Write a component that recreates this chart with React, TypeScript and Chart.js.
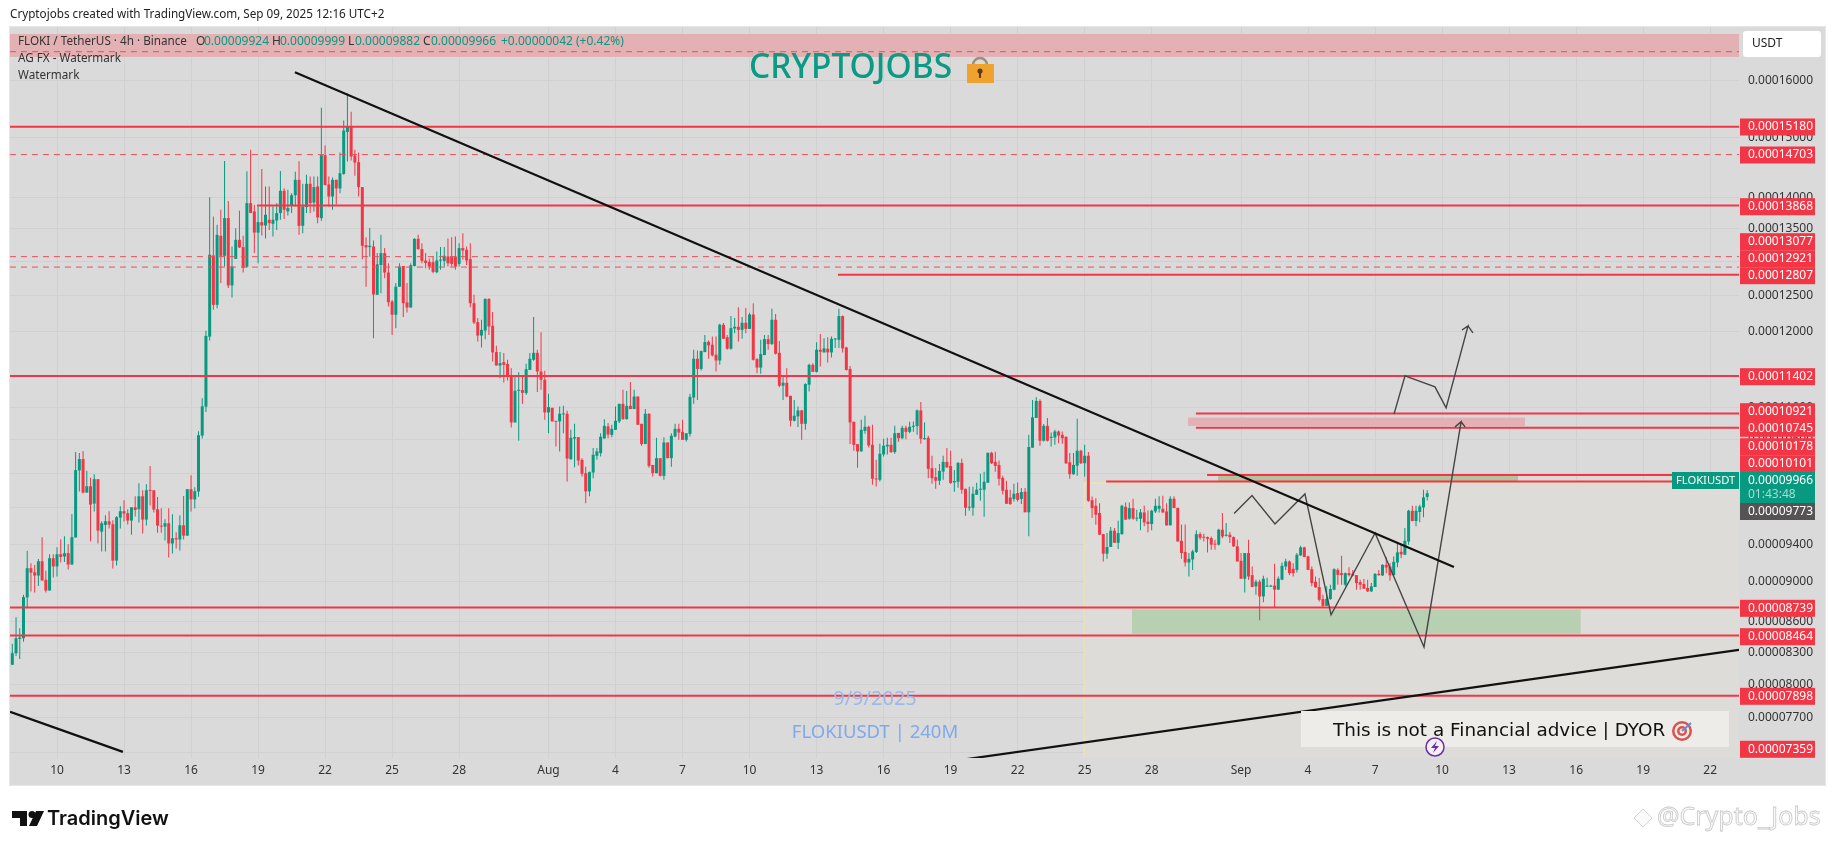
import React, { useEffect, useRef } from "react";
import { Chart, registerables } from "chart.js";

Chart.register(...registerables);

// Prices are kept in units of 0.00000001 USDT.
const PRICE_UNIT = 1e-8;
const price = (v: number) => v * PRICE_UNIT;

// 4h candles [open, high, low, close]. x is "days since 1 July" (Jul 10 = 9).
const firstCandleDay = 9 - 13 / 6;

const julyCandles = [
[8165,8193,8118,8180],[8184,8383,8184,8293],[8293,8643,8267,8437],[8431,8535,8239,8444],[8437,8868,8402,8845],[8842,9328,8742,9144],[9144,9196,8902,9098],[9101,9178,8892,9067],[9067,9242,8960,9217],[9217,9475,9016,9016],
[9023,9116,8892,8912],[8912,9292,8912,9249],[9249,9292,9046,9162],[9162,9367,9056,9292],[9292,9453,9203,9263],[9267,9486,9210,9303],[9303,9400,9130,9182],[9182,9732,9182,9475],[9472,10448,9472,10234],[10230,10436,9985,10365],
[10365,10460,9962,9973],[9973,10226,9973,10046],[10046,10144,9428,9837],[9848,10186,9758,10128],[10128,10128,9407,9547],[9536,9650,9320,9628],[9610,9717,9320,9650],[9650,9762,9569,9613],[9617,9661,9140,9224],[9224,9706,9172,9695],
[9691,9818,9569,9762],[9762,9887,9647,9736],[9740,9784,9613,9658],[9658,9806,9503,9806],[9806,9931,9703,9777],[9784,10081,9636,9931],[9931,10000,9516,9669],[9669,10070,9602,10000],[10000,10281,9825,9993],[10000,10000,9747,9780],
[9784,9922,9525,9602],[9602,9796,9525,9591],[9591,9673,9439,9628],[9628,9796,9256,9407],[9407,9729,9299,9464],[9464,9530,9353,9450],[9450,9717,9331,9606],[9606,9935,9450,9492],[9492,10012,9492,10012],[10012,10174,9758,9895],
[9895,10035,9792,9989],[9985,10701,9927,10652],[10648,11113,10611,11012],[11008,12009,10941,11939],[11929,14000,11875,13105],[13095,13695,12303,12373],[12373,13564,12326,13408],[13393,13800,12686,13090],[13090,14597,12928,13669],[13669,13941,12613,12652],
[12652,13231,12477,12928],[13044,13512,13044,13332],[13332,13784,13206,13216],[13221,13393,12840,12913],[12928,14425,12913,13905],[13905,14785,13748,13748],[13774,13878,13130,13443],[13443,13852,12978,13606],[13606,14463,13398,13553],[13553,14175,13352,13722],
[13643,14175,13485,13590],[13580,13852,13383,13643],[13632,13905,13485,13748],[13748,14430,13643,14104],[14104,14147,13653,13800],[13774,14120,13711,13826],[13868,14066,13748,14033],[14033,14414,13852,14283],[14283,14590,13408,13548],[13548,14218,13433,13852],
[13842,14365,13748,14218],[14218,14337,13748,13905],[13915,14337,13774,14164],[14175,14337,13590,13679],[13669,15514,13627,14693],[14693,14858,14196,14196],[14207,14337,13852,14012],[14012,14321,13800,14283],[14283,14283,13878,14142],[14142,14739,14066,14392],
[14381,15290,14365,15114],[15090,15773,14586,15185],[15185,15443,14603,14671],[14688,14784,14348,14569],[14575,14739,14012,14164],[14164,14164,13039,13241],[13251,13372,12633,13216],[13221,13514,13075,13241],[13231,13322,11906,12521],[12516,13130,12516,12963],
[12953,13408,12540,13130],[13130,13206,12758,12841],[12841,12978,12349,12410],[12420,12443,11953,12233],[12233,12686,12046,12633],[12633,12978,12633,12928],[12938,12938,12200,12396],[12406,12686,12265,12335],[12335,12978,12335,12948],[12938,13357,12928,13347],
[13347,13408,13181,13191],[13191,13281,12978,13014],[13019,13130,12904,12983],[12998,13050,12880,12928],[12993,13075,12830,12850],[12845,13155,12830,13019],[13019,13221,12880,13029],[13014,13221,12928,13090],[13080,13352,12928,12978],[13070,13372,12928,12968],
[13080,13383,12880,12928],[12968,13281,12928,13206],[13206,13433,13029,13170],[13181,13231,12953,13019],[13039,13281,12340,12396],[12396,12516,12102,12125],[12130,12186,11864,11944],[11944,12163,11782,12022],[12013,12467,11895,12457],[12457,12467,11953,12069],
[12079,12270,11593,11715],[11719,11805,11540,11540],[11540,11719,11374,11571],[11585,11706,11318,11549],[11562,11616,11344,11409],[11409,11504,10748,10810],[10810,11396,10810,11210],[11210,11452,10585,11223],[11219,11396,11043,11184],[11180,11562,11158,11491],
[11482,11706,11482,11630],[11616,12200,11603,11710],[11710,11751,11193,11461],[11461,11990,11223,11353],[11353,11470,10843,10935],
];

const augustCandles = [
[10935,11171,10677,11002],[10993,10993,10823,10823],[10827,10827,10516,10818],[10823,11010,10456,10918],[10910,11018,10677,10918],[10918,10956,10102,10371],[10363,10719,10355,10621],[10612,10793,10267,10629],[10629,10629,10287,10347],[10355,10375,10160,10190],
[10198,10275,9853,9987],[9987,10217,9930,10210],[10206,10497,10140,10416],[10404,10497,10355,10456],[10436,10677,10396,10633],[10612,10851,10612,10768],[10760,10802,10616,10661],[10657,10781,10629,10731],[10719,11010,10719,10831],[10823,11043,10802,11043],
[11043,11223,10843,10851],[10851,11206,10843,11018],[11018,11323,10977,10977],[10977,11223,10977,11136],[11136,11136,10781,10781],[10793,10793,10524,10544],[10544,10977,10544,10918],[10918,10926,10263,10283],[10295,10295,10160,10198],[10198,10621,10198,10375],
[10375,10375,10160,10167],[10167,10629,10121,10564],[10564,10564,10375,10375],[10375,10677,10275,10645],[10637,10793,10629,10731],[10731,10793,10596,10685],[10694,10843,10596,10596],[10596,10677,10576,10677],[10669,11171,10637,11132],[11124,11751,11043,11630],
[11630,11742,11093,11495],[11495,11742,11474,11733],[11719,11953,11719,11855],[11859,11878,11630,11810],[11819,11930,11661,11675],[11684,11930,11461,11607],[11607,12107,11549,12093],[12093,12116,11900,11900],[11922,11953,11751,11765],[11765,12214,11751,12046],
[12041,12186,11976,12065],[12065,12340,11864,12022],[12022,12200,11900,12121],[12121,12328,11976,12036],[12036,12261,12036,12237],[12237,12396,11607,11616],[11625,11639,11439,11513],[11513,11886,11431,11693],[11679,11953,11679,11895],[11895,11953,11751,11828],
[11828,12319,11814,12163],[12163,12242,11688,11697],[11710,11868,11254,11275],[11275,11396,11093,11314],[11314,11504,11128,11136],[11145,11145,10760,10831],[10831,11093,10823,10893],[10885,11010,10752,10960],[10960,10968,10596,10793],[10793,11306,10719,11297],
[11288,11562,11201,11549],[11549,11571,11456,11456],[11456,11851,11448,11751],[11751,11967,11526,11724],[11715,11908,11715,11769],[11765,11922,11580,11715],[11715,11930,11648,11900],[11891,11908,11774,11900],[11886,12319,11774,12214],[12214,12224,11715,11769],
[11782,11791,11474,11482],[11495,11535,10544,10810],[10818,10818,10465,10535],[10544,10544,10263,10456],[10456,10843,10456,10719],[10706,10893,10669,10756],[10756,10769,10504,10528],[10536,10781,10064,10133],[10133,10355,10044,10125],[10121,10548,10102,10428],
[10420,10609,10396,10524],[10516,10621,10420,10536],[10536,10621,10436,10448],[10448,10769,10428,10677],[10681,10681,10572,10616],[10616,10769,10604,10743],[10743,10769,10604,10694],[10694,10818,10677,10756],[10756,10823,10694,10769],[10764,10972,10657,10960],
[10960,11068,10548,10609],[10604,10810,10596,10616],[10621,10645,10140,10248],[10256,10403,10075,10140],[10152,10259,10017,10110],[10110,10307,10060,10225],[10217,10403,10121,10331],[10331,10497,10259,10267],[10283,10464,10075,10083],[10091,10235,9983,10106],
[10098,10331,10029,10319],[10319,10367,9960,10006],[10017,10017,9712,9801],[9801,10040,9768,9812],[9801,10040,9712,9960],[9948,10087,9948,10006],[10006,10190,9879,10017],[10006,10214,9701,10098],[10087,10440,10087,10440],[10440,10452,10307,10315],
[10331,10452,10214,10283],[10295,10347,10056,10133],[10143,10167,9950,9994],[10006,10110,9842,9846],[9917,10006,9835,9842],[9901,10075,9872,9960],[9967,10090,9872,9890],[9901,10025,9842,9979],[9983,10025,9750,9750],[9750,10657,9485,10509],
[10501,11093,10501,10873],[10865,11128,10865,11080],[11080,11102,10524,10585],[10585,10790,10576,10768],[10768,10864,10576,10585],[10621,10685,10516,10633],[10625,10719,10536,10698],[10698,10710,10556,10649],[10657,10698,10548,10616],[10633,10637,10307,10315],
[10327,10436,10133,10186],[10186,10436,10179,10295],[10287,10856,10167,10464],[10464,10476,10307,10315],[10315,10536,10160,10404],[10404,10448,9868,9879],[9886,9929,9685,9797],[9823,9908,9612,9723],[9742,9853,9502,9502],[9509,9509,9215,9297],
[9297,9520,9243,9369],[9369,9587,9369,9546],[9546,9576,9415,9415],[9415,9657,9347,9520],[9509,9835,9502,9823],[9812,9861,9668,9668],[9679,9861,9668,9797],[9797,9903,9668,9679],[9679,9779,9650,9690],[9679,9786,9550,9749],
[9749,9823,9594,9638],[9646,9771,9528,9620],[9620,9779,9550,9767],[9760,9903,9742,9823],[9789,9930,9749,9823],[9789,9938,9742,9749],[9760,9853,9601,9605],[9605,9930,9605,9903],[9903,9930,9797,9797],[9800,9800,9429,9429],
[9436,9613,9243,9304],[9315,9613,9161,9204],[9204,9304,9058,9243],[9236,9340,9126,9322],[9315,9550,9304,9509],[9509,9528,9447,9469],[9476,9513,9429,9469],[9476,9483,9311,9458],[9465,9483,9340,9394],[9404,9447,9340,9394],
[9394,9568,9386,9557],[9557,9742,9465,9483],[9490,9631,9483,9502],[9502,9531,9411,9476],[9476,9483,9369,9376],[9376,9447,9215,9215],
];

const septemberCandles = [
[9222,9304,9034,9034],[9034,9304,8893,9304],[9304,9447,9024,9058],[9071,9161,8948,8948],[8955,9024,8870,9003],[9003,9024,8612,8852],[8852,9065,8794,9034],[8952,9044,8948,8958],[8952,8972,8948,8962],[8962,9190,8743,8921],
[8921,9058,8921,9034],[9024,9204,9017,9169],[9161,9243,9126,9215],[9215,9226,9071,9092],[9137,9197,9058,9092],[9126,9304,9099,9286],[9279,9383,9276,9365],[9365,9372,9261,9261],[9268,9276,9126,9126],[9133,9161,8955,8989],
[9003,9058,8941,8945],[8948,9041,8801,8818],[8825,8870,8744,8757],[8757,8955,8757,8828],[8825,8972,8818,8928],[8921,9144,8914,9133],[9126,9144,8972,9074],[9092,9276,8972,9074],[8972,9099,8955,9092],[9092,9154,9058,9071],
[9085,9126,9058,9065],[9071,9071,8921,8989],[8999,9024,8921,8972],[8979,9031,8928,8931],[8938,9024,8897,8904],[8904,8989,8897,8955],[8948,9092,8948,9085],[9085,9126,9065,9071],[9068,9184,9065,9179],[9179,9261,9092,9151],
[9161,9197,9014,9068],[9071,9268,9065,9211],[9204,9404,9154,9311],[9318,9394,9250,9290],[9286,9576,9286,9436],[9429,9779,9394,9767],[9767,9823,9650,9653],[9653,9823,9594,9767],[9753,9835,9638,9815],[9804,10007,9694,9919],
[9924,9999,9882,9966],
];

// Axis
const xTickDays = [9,12,15,18,21,24,27,31,34,37,40,43,46,49,52,55,58,62,65,68,71,74,77,80,83];
const xTickLabels = ["10","13","16","19","22","25","28","Aug","4","7","10","13","16","19","22","25","28","Sep","4","7","10","13","16","19","22"];
const yTicks = [16000,15000,14000,13500,13000,12500,12000,11000,10600,10200,9800,9400,9000,8600,8300,8000,7700,7400];
const xMin = 6.896, xMax = 84.29, yMin = 7353, yMax = 17023;

// Horizontal levels
const solidLevels = [15180, 11402, 8739, 8464, 7898];
const dashedLevels = [16547, 14703, 13077, 12921];
const partialLevels = [13868, 12807, 10921, 10745, 10178, 10101];
const partialStarts = [17.95, 43.96, 59.98, 59.98, 60.48, 55.96];

// Trend lines: [day, price]
const mainTrend = [[19.65,16161],[71.53,9157]];
const lowerLeftTrend = [[6.9,7754],[11.95,7405]];
const risingTrend = [[48.53,7312],[84.29,8325]];
const pathOne = [[61.69,9736],[62.49,9939],[63.52,9621],[64.86,9958],[66.03,8667],[68.0,9521],[70.19,8353],[71.85,10818],[71.58,10755],[71.85,10818],[72.03,10755]];
const pathTwo = [[68.85,10917],[69.34,11403],[70.68,11261],[71.18,10992],[72.16,12077],[71.89,12021],[72.16,12077],[72.38,11981]];

// Zones
const zoneNames = ["band","beige","green","pink","olive"];
const zoneFrom = [0, 54.97, 57.12, 59.63, 60.97];
const zoneTo = [90, 90, 77.2, 74.71, 74.4];
const zoneLow = [16447, 7000, 8480, 10767, 10101];
const zoneHigh = [16887, 10085, 8722, 10870, 10178];
const zoneColors = ["#e3b1b4", "#dddcd8", "#b7d0b2", "#e3b0b3", "#b3c3a2"];

// Right axis tags
const tagTexts = ["0.00015180","0.00014703","0.00013868","0.00013077","0.00012921","0.00012807","0.00011402","0.00010921","0.00010745","0.00010178","0.00010101","0.00008739","0.00008464","0.00007898","0.00007359"];

const GREEN = "#089981";
const RED = "#f23645";
const FONT = '"Noto Sans", sans-serif';

const allCandles = [...julyCandles, ...augustCandles, ...septemberCandles];
const dayOf = (i: number) => firstCandleDay + i / 6;
const colors = allCandles.map((c) => (c[3] >= c[0] ? GREEN : RED));
const toPts = (a: number[][]) => a.map(([x, y]) => ({ x, y: price(y) }));

function lineDs(data: any[], color: string, width: number, order: number, dash?: number[]) {
  return {
    type: "line", data, borderColor: color, borderWidth: width, pointRadius: 0, order,
    borderDash: dash || [], tension: 0, fill: false, borderCapStyle: "butt", borderJoinStyle: "miter",
  };
}

const tagYs = [127, 155, 206.7, 241.7, 258.7, 275.7, 376.7, 411.7, 428.3, 446.7, 463.7, 608.3, 636.7, 696.3, 749.3];

const decor = {
  id: "decor",
  beforeDraw(chart: any) {
    const c = chart.ctx;
    c.save();
    c.fillStyle = "#ffffff";
    c.fillRect(0, 0, 1835, 845);
    c.fillStyle = "#dadada";
    c.fillRect(10, 27, 1815, 758);
    c.strokeStyle = "#e6e6e6";
    c.lineWidth = 1;
    c.strokeRect(9.5, 26.5, 1816, 759);
    c.restore();
  },
  beforeDatasetsDraw(chart: any) {
    const c = chart.ctx;
    const { x, y } = chart.scales;
    const a = chart.chartArea;
    c.save();
    c.beginPath();
    c.rect(a.left, a.top, a.right - a.left, a.bottom - a.top);
    c.clip();
    zoneNames.forEach((name, i) => {
      const x0 = x.getPixelForValue(zoneFrom[i]);
      const x1 = x.getPixelForValue(zoneTo[i]);
      const y0 = y.getPixelForValue(price(zoneHigh[i]));
      const y1 = y.getPixelForValue(price(zoneLow[i]));
      c.fillStyle = zoneColors[i];
      c.fillRect(x0, y0, x1 - x0, y1 - y0);
      if (name === "beige") {
        c.strokeStyle = "#efe2ae";
        c.lineWidth = 1.5;
        c.beginPath();
        c.moveTo(x0, y1);
        c.lineTo(x0, y0);
        c.lineTo(x1, y0);
        c.stroke();
      }
    });
    c.restore();
  },
  afterDraw(chart: any) {
    const c = chart.ctx;
    c.save();
    c.textBaseline = "middle";
    c.textAlign = "left";
    const text = (s: string, px: number, py: number, color: string, font: string) => {
      c.fillStyle = color;
      c.font = font;
      c.fillText(s, px, py);
    };
    const F12 = `12px ${FONT}`;
    text("Cryptojobs created with TradingView.com, Sep 09, 2025 12:16 UTC+2", 10, 15, "#222", `11.7px ${FONT}`);
    text("FLOKI / TetherUS · 4h · Binance", 18, 42, "#333", `11.7px ${FONT}`);
    [["O","0.00009924",196,204],["H","0.00009999",272,280],["L","0.00009882",348,355],["C","0.00009966",423,431]].forEach((r: any) => {
      text(r[0], r[2], 42, "#333", F12);
      text(r[1], r[3], 42, GREEN, F12);
    });
    text("+0.00000042 (+0.42%)", 501, 42, GREEN, F12);
    text("AG FX - Watermark", 18, 59, "#333", `11.7px ${FONT}`);
    text("Watermark", 18, 76, "#333", `11.7px ${FONT}`);
    text("CRYPTOJOBS", 749, 68, "#0b9a83", `500 33.5px ${FONT}`);

    // padlock
    c.strokeStyle = "#9a8f80"; c.lineWidth = 2.5;
    c.beginPath(); c.arc(980, 65, 7, Math.PI, 0); c.stroke();
    c.fillStyle = "#f0a22e"; c.fillRect(967, 64, 27, 19);
    c.fillStyle = "#5a3a1a"; c.beginPath(); c.arc(980, 71, 2.6, 0, Math.PI * 2); c.fill();
    c.fillRect(979, 72, 2, 6);

    // watermark captions
    c.textAlign = "center";
    text("9/9/2025", 875, 699, "#9db8e6", `20px ${FONT}`);
    text("FLOKIUSDT | 240M", 875, 733, "#80a9ec", `18.5px ${FONT}`);
    c.textAlign = "left";

    // disclaimer box
    c.fillStyle = "#edece8"; c.fillRect(1301, 711, 428, 36);
    text("This is not a Financial advice | DYOR", 1333, 731, "#111", `18.4px "DejaVu Sans", sans-serif`);
    [[10,"#d8534f"],[7.5,"#f4e9e4"],[5,"#d8534f"],[2.5,"#f4e9e4"]].forEach((r: any) => {
      c.fillStyle = r[1]; c.beginPath(); c.arc(1682, 731, r[0], 0, Math.PI * 2); c.fill();
    });
    c.strokeStyle = "#5f8fd6"; c.lineWidth = 2;
    c.beginPath(); c.moveTo(1682, 731); c.lineTo(1691, 723); c.stroke();

    // lightning badge
    c.fillStyle = "#f3eff7"; c.strokeStyle = "#6a2fa0"; c.lineWidth = 1.5;
    c.beginPath(); c.arc(1435, 747, 9, 0, Math.PI * 2); c.fill(); c.stroke();
    c.fillStyle = "#6a2fa0";
    c.beginPath(); c.moveTo(1437, 741); c.lineTo(1431, 748); c.lineTo(1435, 748); c.lineTo(1433, 753); c.lineTo(1439, 746); c.lineTo(1435, 746); c.closePath(); c.fill();

    // USDT button
    c.fillStyle = "#ffffff";
    c.beginPath(); c.roundRect(1743, 31, 78, 26, 3); c.fill();
    text("USDT", 1752, 44, "#222", F12);

    // tags
    tagTexts.forEach((t, i) => {
      c.fillStyle = RED;
      c.fillRect(1740, tagYs[i] - 8.5, 75, 17);
      text(t, 1748, tagYs[i], "#fff", F12);
    });
    c.fillStyle = GREEN;
    c.fillRect(1672, 472, 67, 17);
    text("FLOKIUSDT", 1676, 480.5, "#fff", `11.2px ${FONT}`);
    c.fillStyle = GREEN;
    c.fillRect(1740, 472, 75, 31);
    text("0.00009966", 1748, 480.7, "#fff", F12);
    text("01:43:48", 1748, 494.7, "#a6dcd2", F12);
    c.fillStyle = "#555353";
    c.fillRect(1740, 503, 75, 17);
    text("0.00009773", 1748, 511.3, "#fff", F12);

    // TradingView logo
    c.fillStyle = "#111";
    c.beginPath(); c.moveTo(12, 811); c.lineTo(27, 811); c.lineTo(27, 826); c.lineTo(20, 826); c.lineTo(20, 818); c.lineTo(12, 818); c.closePath(); c.fill();
    c.beginPath(); c.arc(32, 814.5, 3.5, 0, Math.PI * 2); c.fill();
    c.beginPath(); c.moveTo(36, 811); c.lineTo(44, 811); c.lineTo(37, 826); c.lineTo(29, 826); c.closePath(); c.fill();
    text("TradingView", 47, 819, "#111", `600 20px Inter, ${FONT}`);

    // credit
    c.strokeStyle = "#c9c9c9"; c.lineWidth = 0.8;
    c.fillStyle = "#fafafa";
    c.beginPath(); c.moveTo(1643, 809); c.lineTo(1652, 818); c.lineTo(1643, 827); c.lineTo(1634, 818); c.closePath(); c.fill(); c.stroke();
    c.font = `25px ${FONT}`;
    c.fillText("@Crypto_Jobs", 1657, 818);
    c.strokeText("@Crypto_Jobs", 1657, 818);
    c.restore();
  },
};

export default function App() {
  const ref = useRef<HTMLCanvasElement>(null);
  useEffect(() => {
    const levels: any[] = [];
    solidLevels.forEach((p) => levels.push(lineDs(toPts([[0, p], [90, p]]), RED, 2, 2)));
    dashedLevels.forEach((p) => levels.push(lineDs(toPts([[0, p], [90, p]]), "#e8505e", 1, 2, [6, 5])));
    partialLevels.forEach((p, i) => levels.push(lineDs(toPts([[partialStarts[i], p], [90, p]]), RED, 2, 2)));

    const chart = new Chart(ref.current as HTMLCanvasElement, {
      type: "bar",
      data: {
        datasets: [
          ...levels,
          lineDs(toPts(pathOne), "#444444", 1.4, 1),
          lineDs(toPts(pathTwo), "#444444", 1.4, 1),
          lineDs(toPts(mainTrend), "#111111", 2.2, 0),
          lineDs(toPts(lowerLeftTrend), "#111111", 2.2, 0),
          lineDs(toPts(risingTrend), "#111111", 2.2, 0),
          {
            label: "wick", order: 11, grouped: false, barThickness: 1, borderWidth: 0, inflateAmount: 0,
            backgroundColor: colors,
            data: allCandles.map((c, i) => ({ x: dayOf(i), y: [price(c[2]), price(c[1])] })),
          },
          {
            label: "body", order: 10, grouped: false, barThickness: 3, borderWidth: 0, inflateAmount: 0, minBarLength: 1,
            backgroundColor: colors,
            data: allCandles.map((c, i) => ({ x: dayOf(i), y: [price(Math.min(c[0], c[3])), price(Math.max(c[0], c[3]))] })),
          },
        ] as any,
      },
      options: {
        responsive: false,
        animation: false,
        devicePixelRatio: 1,
        layout: { padding: { left: 10, top: 27, right: 0, bottom: 60 } },
        plugins: { legend: { display: false }, tooltip: { enabled: false } },
        scales: {
          x: {
            type: "linear", min: xMin, max: xMax, offset: false,
            grid: { offset: false, color: "#d0d0d0", drawTicks: false },
            border: { display: false },
            afterBuildTicks: (s: any) => { s.ticks = xTickDays.map((value) => ({ value })); },
            afterFit: (s: any) => { s.height = 27; },
            ticks: {
              autoSkip: false, maxRotation: 0, padding: 5, color: "#333",
              font: { family: FONT, size: 12 },
              callback: (v: any) => xTickLabels[xTickDays.indexOf(v)] ?? "",
            },
          },
          y: {
            type: "logarithmic", position: "right", min: price(yMin), max: price(yMax),
            grid: { color: "#d0d0d0", drawTicks: false },
            border: { display: false },
            afterBuildTicks: (s: any) => {
              s.ticks = yTicks.map((v) => ({ value: price(v) }));
              s.min = price(yMin);
              s.max = price(yMax);
            },
            afterFit: (s: any) => { s.width = 96; },
            ticks: {
              autoSkip: false, padding: 9, color: "#333",
              font: { family: FONT, size: 12 },
              callback: (v: any) => Number(v).toFixed(8),
            },
          },
        },
      } as any,
      plugins: [decor],
    });
    return () => chart.destroy();
  }, []);
  return <canvas ref={ref} width={1835} height={845} style={{ position: "absolute", left: 0, top: 0, display: "block" }} />;
}
